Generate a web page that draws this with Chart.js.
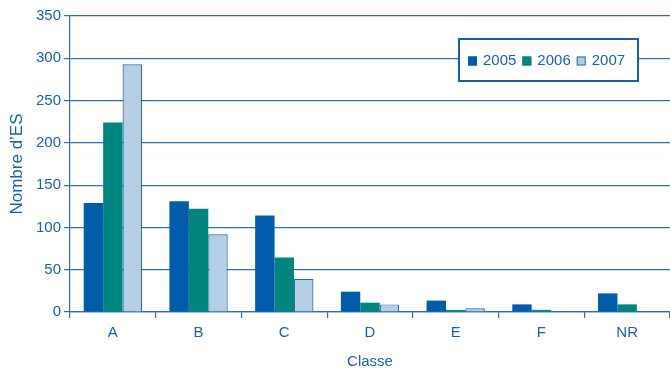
<!DOCTYPE html>
<html>
<head>
<meta charset="utf-8">
<script src="https://cdn.jsdelivr.net/npm/chart.js@4/dist/chart.umd.min.js"></script>
<style>
  html, body { margin: 0; padding: 0; background: #ffffff; }
  #wrap { width: 670px; height: 369px; position: relative; }
</style>
</head>
<body>
<div id="wrap"><canvas id="chart"></canvas></div>
<script>
const categories = ['A', 'B', 'C', 'D', 'E', 'F', 'NR'];
const seriesNames = ['2005', '2006', '2007'];
const values2005 = [129, 131, 114, 24, 13.5, 9, 22];
const values2006 = [224, 122, 64.5, 11, 2.5, 2.5, 9];
const values2007 = [293, 92, 39, 9, 4.5, 0, 0];
const yTicks = [0, 50, 100, 150, 200, 250, 300, 350];

const FONT = '"Liberation Sans", Arial, sans-serif';
const TEXT = '#1d5fa6';
const LINE = '#2f6fae';

const fills = ['#005ca9', '#00857f', '#b4cee4'];
const borders = ['#005ca9', '#00857f', '#2a68a8'];

// Legend drawn as a framed box inside the plot area
const boxLegend = {
  id: 'boxLegend',
  afterDraw(chart) {
    const ctx = chart.ctx;
    const x = 459, y = 39, w = 179, h = 42;
    ctx.save();
    ctx.fillStyle = '#ffffff';
    ctx.fillRect(x, y, w, h);
    ctx.strokeStyle = '#1a5ea8';
    ctx.lineWidth = 2;
    ctx.strokeRect(x, y, w, h);
    ctx.font = '15px ' + FONT;
    ctx.textBaseline = 'middle';
    let cx = x + 9;
    const cy = y + h / 2 + 1;
    chart.data.datasets.forEach((ds) => {
      ctx.fillStyle = ds.backgroundColor;
      ctx.fillRect(cx, cy - 4.5, 9, 9);
      ctx.strokeStyle = ds.borderColor;
      ctx.lineWidth = 1;
      ctx.strokeRect(cx + 0.5, cy - 4, 8, 8);
      ctx.fillStyle = TEXT;
      ctx.fillText(ds.label, cx + 15, cy);
      cx += 15 + ctx.measureText(ds.label).width + 6;
    });
    ctx.restore();
  }
};

const allValues = [values2005, values2006, values2007];

new Chart(document.getElementById('chart'), {
  type: 'bar',
  data: {
    labels: categories,
    datasets: seriesNames.map((name, i) => ({
      label: name,
      data: allValues[i],
      backgroundColor: fills[i],
      borderColor: borders[i],
      borderWidth: i === 2 ? 1.2 : 0,
      categoryPercentage: 0.68,
      barPercentage: 1.0
    }))
  },
  options: {
    responsive: true,
    maintainAspectRatio: false,
    animation: false,
    layout: { padding: { top: 16, right: 0, left: 0, bottom: 0 } },
    plugins: {
      legend: { display: false },
      tooltip: { enabled: false }
    },
    scales: {
      x: {
        offset: true,
        grid: {
          offset: true,
          drawOnChartArea: false,
          drawTicks: true,
          tickLength: 6,
          color: LINE,
          lineWidth: 1.2
        },
        border: { display: true, color: LINE, width: 1.2 },
        ticks: {
          color: TEXT,
          font: { family: FONT, size: 15 },
          padding: 6
        },
        title: {
          display: true,
          text: 'Classe',
          color: TEXT,
          font: { family: FONT, size: 15, lineHeight: 1 },
          padding: { top: 11, bottom: 0 }
        },
        afterFit(scale) { scale.height = 57; }
      },
      y: {
        min: 0,
        max: 350,
        afterBuildTicks(scale) { scale.ticks = yTicks.map(v => ({ value: v })); },
        grid: {
          color: LINE,
          lineWidth: 1.2,
          drawTicks: true,
          tickLength: 6
        },
        border: { display: true, color: LINE, width: 1.2 },
        ticks: {
          color: TEXT,
          font: { family: FONT, size: 15 },
          padding: 3
        },
        title: {
          display: true,
          text: 'Nombre d\u2019ES',
          color: TEXT,
          font: { family: FONT, size: 17 },
          padding: { top: 7, bottom: 4 }
        },
        afterFit(scale) { scale.width = 70; }
      }
    }
  },
  plugins: [boxLegend]
});
</script>
</body>
</html>
